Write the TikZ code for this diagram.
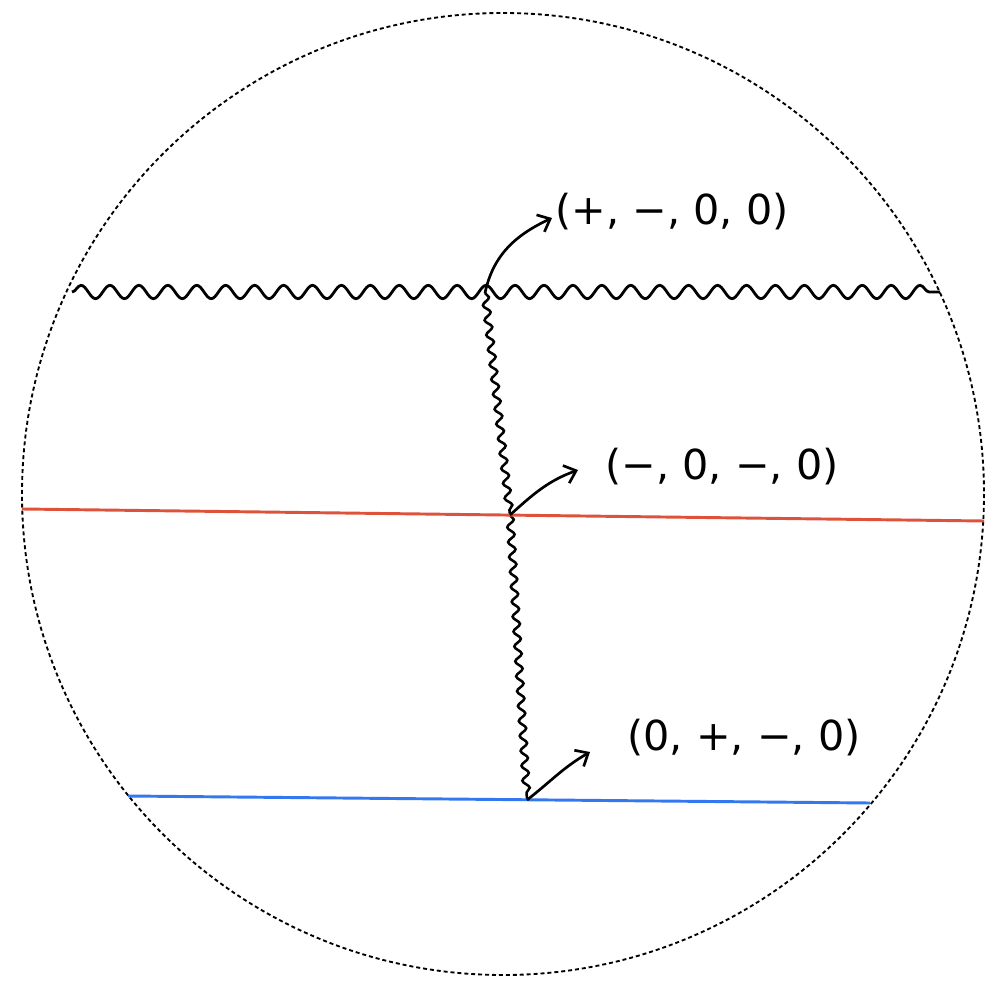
\documentclass[tikz,border=0pt]{standalone}
\usepackage{fontspec}
\newfontfamily\labfont{DejaVu Sans}
\usetikzlibrary{decorations.pathmorphing,arrows.meta}
\begin{document}
\begin{tikzpicture}[x=0.75pt,y=-0.75pt,
  wavy/.style={decorate,decoration={snake,segment length=21.7pt,amplitude=5pt},line width=2.1pt,black},
  wavyv/.style={decorate,decoration={snake,segment length=11.2pt,amplitude=2.6pt},line width=1.9pt,black},
  arr/.style={-{Straight Barb[length=8pt,width=14pt,line width=2pt]},line width=2pt},
  lab/.style={font=\labfont\fontsize{31}{36}\selectfont,anchor=center}]
\useasboundingbox (0,0) rectangle (996,987);
\draw[line width=1.4pt,dash pattern=on 3pt off 2.2pt] (503,494) circle (481);
\coordinate (wl) at (72,292);
\coordinate (wr) at (940,292);
\coordinate (top) at (485,293);
\coordinate (mid) at (510,515);
\coordinate (bot) at (527,800);
\coordinate (rl) at (22,509);
\coordinate (rr) at (984,521);
\coordinate (bl) at (128,796);
\coordinate (br) at (870,803);
\draw[wavy] (wl) -- (wr);
\draw[wavyv] (top) -- (mid);
\draw[wavyv] (mid) -- (bot);
\draw[line width=2.2pt,color={rgb,255:red,222;green,82;blue,60}] (rl) -- (rr);
\draw[line width=2.2pt,color={rgb,255:red,52;green,120;blue,240}] (bl) -- (br);
\node[lab] (l1) at (672,212) {(+, −, 0, 0)};
\node[lab] (l2) at (722,467) {(−, 0, −, 0)};
\node[lab] (l3) at (744,738) {(0, +, −, 0)};
\draw[arr] (top) to[out=78,in=205] (552,218);
\draw[arr] (mid) to[out=42,in=200] (578,470);
\draw[arr] (bot) to[out=38,in=210] (590,752);
\end{tikzpicture}
\end{document}
